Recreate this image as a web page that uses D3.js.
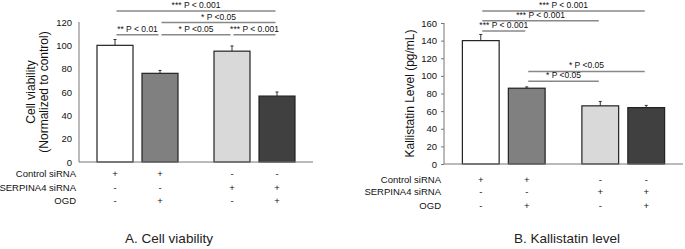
<!DOCTYPE html>
<html>
<head>
<meta charset="utf-8">
<script src="https://cdn.jsdelivr.net/npm/d3@7/dist/d3.min.js"></script>
<style>
  body { margin: 0; background: #fff; }
  text { font-family: "Liberation Sans", Arial, sans-serif; }
</style>
</head>
<body>
<div id="chart-area"></div>
<script>
// data
var groups = ["Control", "SERPINA4"];
var conditions = ["noOGD", "OGD"];
var barColors = ["#ffffff", "#808080", "#d9d9d9", "#404040"];

var rowLabels = ["Control siRNA", "SERPINA4 siRNA", "OGD"];
var rowSigns = [
  ["+", "+", "-", "-"],
  ["-", "-", "+", "+"],
  ["-", "+", "-", "+"]
];

var viability = [100, 76, 95, 56.5];
var viabilityErr = [5, 2.5, 4.5, 3.5];
var viabilityTicks = [0, 20, 40, 60, 80, 100, 120];
// [from bar, to bar, height (value), label]
var viabilitySig = [
  [0, 3, 129.5, "*** P < 0.001"],
  [1, 3, 119.5, "* P <0.05"],
  [0, 1, 109, "** P < 0.01"],
  [1, 2, 109, "* P <0.05"],
  [2, 3, 109, "*** P < 0.001"]
];

var kallistatin = [140, 86, 66, 64];
var kallistatinErr = [7, 1.5, 5, 2.5];
var kallistatinTicks = [0, 20, 40, 60, 80, 100, 120, 140, 160];
var kallistatinSig = [
  [0, 3, 173.5, "*** P < 0.001"],
  [0, 2, 162.5, "*** P < 0.001"],
  [0, 1, 151, "*** P < 0.001"],
  [1, 3, 105, "* P <0.05"],
  [1, 2, 94, "* P <0.05"]
];

var svg = d3.select("#chart-area")
  .append("svg")
  .attr("width", 685)
  .attr("height", 249);

function drawPanel(opt) {
  var g = svg.append("g");

  var y = d3.scaleLinear()
    .domain([0, d3.max(opt.ticks)])
    .range([opt.bottom, opt.top]);

  var x0 = d3.scaleBand()
    .domain(groups)
    .range([opt.left, opt.right]);

  var x1 = d3.scaleBand()
    .domain(conditions)
    .range([0, x0.bandwidth()])
    .paddingInner(0.2)
    .paddingOuter(0.4);

  var bars = opt.values.map(function(v, i) {
    return {
      value: v,
      err: opt.errors[i],
      x: x0(groups[Math.floor(i / 2)]) + x1(conditions[i % 2]),
      color: barColors[i]
    };
  });
  function cx(i) { return bars[i].x + x1.bandwidth() / 2; }

  // axis
  var yAxis = d3.axisLeft(y)
    .tickValues(opt.ticks)
    .tickSize(opt.tickSize)
    .tickPadding(opt.tickSize ? 4 : 7);

  var ax = g.append("g")
    .attr("transform", "translate(" + opt.left + ",0)")
    .call(yAxis);
  ax.select(".domain").remove();
  ax.selectAll("line").attr("stroke", "#777");
  ax.selectAll("text")
    .attr("font-size", "9.5px")
    .attr("fill", "#111");

  g.append("line")
    .attr("x1", opt.left).attr("x2", opt.left)
    .attr("y1", opt.top).attr("y2", opt.bottom)
    .attr("stroke", "#777");

  // error bars (behind)
  g.selectAll(".err")
    .data(bars)
    .enter()
    .append("line")
    .attr("x1", function(d) { return d.x + x1.bandwidth() / 2; })
    .attr("x2", function(d) { return d.x + x1.bandwidth() / 2; })
    .attr("y1", function(d) { return y(d.value); })
    .attr("y2", function(d) { return y(d.value + d.err); })
    .attr("stroke", "#333");

  g.selectAll(".cap")
    .data(bars)
    .enter()
    .append("line")
    .attr("x1", function(d) { return d.x + x1.bandwidth() / 2 - 1.5; })
    .attr("x2", function(d) { return d.x + x1.bandwidth() / 2 + 1.5; })
    .attr("y1", function(d) { return y(d.value + d.err); })
    .attr("y2", function(d) { return y(d.value + d.err); })
    .attr("stroke", "#333");

  g.selectAll("rect")
    .data(bars)
    .enter()
    .append("rect")
    .attr("x", function(d) { return d.x; })
    .attr("y", function(d) { return y(d.value); })
    .attr("width", x1.bandwidth())
    .attr("height", function(d) { return opt.bottom - y(d.value); })
    .attr("fill", function(d) { return d.color; })
    .attr("stroke", "#222")
    .attr("stroke-width", 1.2);

  // x axis line
  g.append("line")
    .attr("x1", opt.left).attr("x2", opt.right)
    .attr("y1", opt.bottom).attr("y2", opt.bottom)
    .attr("stroke", "#777");

  // significance brackets
  opt.sig.forEach(function(s) {
    var yy = y(s[2]);
    g.append("line")
      .attr("x1", cx(s[0]) + 1.5)
      .attr("x2", cx(s[1]) - 1.5)
      .attr("y1", yy).attr("y2", yy)
      .attr("stroke", "#888")
      .attr("stroke-width", 1.5);
    g.append("text")
      .attr("x", (cx(s[0]) + cx(s[1])) / 2)
      .attr("y", yy - 3)
      .attr("text-anchor", "middle")
      .attr("font-size", "8.5px")
      .attr("fill", "#111")
      .text(s[3]);
  });

  // treatment rows
  rowLabels.forEach(function(lab, r) {
    var ry = opt.bottom + opt.rowY[r];
    g.append("text")
      .attr("x", opt.left - 3)
      .attr("y", ry)
      .attr("text-anchor", "end")
      .attr("font-size", "9.5px")
      .attr("fill", "#111")
      .text(lab);
    rowSigns[r].forEach(function(sg, i) {
      g.append("text")
        .attr("x", cx(i))
        .attr("y", ry)
        .attr("text-anchor", "middle")
        .attr("font-size", "9.5px")
        .attr("fill", "#111")
        .text(sg);
    });
  });

  // y label
  var yl = g.append("text")
    .attr("transform", "translate(" + opt.ylabelX + "," + (opt.top + opt.bottom) / 2 + ") rotate(-90)")
    .attr("text-anchor", "middle")
    .attr("font-size", "12px")
    .attr("fill", "#111");
  opt.ylabel.forEach(function(t, i) {
    yl.append("tspan")
      .attr("x", 0)
      .attr("dy", i === 0 ? 0 : "1.05em")
      .text(t);
  });

  // title
  g.append("text")
    .attr("x", opt.titleX)
    .attr("y", 243)
    .attr("text-anchor", "middle")
    .attr("font-size", "13.5px")
    .attr("font-family", "'Noto Sans CJK KR', 'Noto Sans', sans-serif")
    .attr("fill", "#222")
    .text(opt.title);
}

drawPanel({
  values: viability,
  errors: viabilityErr,
  ticks: viabilityTicks,
  sig: viabilitySig,
  left: 79, right: 313, top: 22, bottom: 162,
  tickSize: 0,
  rowY: [15, 29, 42],
  ylabel: ["Cell viability", "(Normalized to control)"],
  ylabelX: 35,
  titleX: 169,
  title: "A. Cell viability"
});

drawPanel({
  values: kallistatin,
  errors: kallistatinErr,
  ticks: kallistatinTicks,
  sig: kallistatinSig,
  left: 444, right: 683, top: 23, bottom: 164,
  tickSize: 3,
  rowY: [19, 31, 45],
  ylabel: ["Kallistatin Level (pg/mL)"],
  ylabelX: 414,
  titleX: 567,
  title: "B. Kallistatin  level"
});
</script>
</body>
</html>
